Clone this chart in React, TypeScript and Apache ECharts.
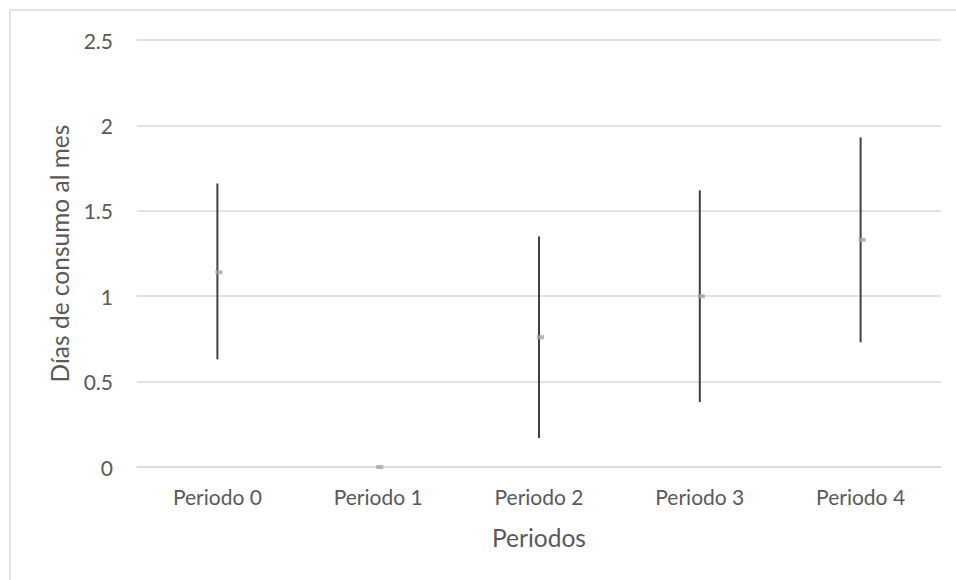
import React, { useEffect, useRef } from "react";
import * as echarts from "echarts";

const categories = ["Periodo 0", "Periodo 1", "Periodo 2", "Periodo 3", "Periodo 4"];
const means = [1.14, 0, 0.76, 1.0, 1.33];
const lower = [0.63, 0, 0.17, 0.38, 0.73];
const upper = [1.66, 0, 1.35, 1.62, 1.93];
const yTitle = "Días de consumo al mes";
const xTitle = "Periodos";

const FONT = "Lato";
const TEXT = "#595959";
const GRID = "#d9d9d9";

export default function App() {
  const ref = useRef<HTMLDivElement>(null);
  useEffect(() => {
    if (!ref.current) return;
    const chart = echarts.init(ref.current, undefined, { renderer: "svg" });
    const errData = categories.map((_, i) => [i, lower[i], upper[i]]);
    chart.setOption({
      animation: false,
      backgroundColor: "#ffffff",
      textStyle: { fontFamily: FONT },
      graphic: [
        {
          type: "rect",
          shape: { x: 10, y: 10, width: 960, height: 600 },
          style: { fill: "none", stroke: GRID, lineWidth: 1.5 },
          silent: true,
        },
      ],
      grid: { left: 137, right: 15, top: 40, bottom: 113 },
      xAxis: {
        type: "category",
        data: categories,
        name: xTitle,
        nameLocation: "middle",
        nameGap: 58,
        nameTextStyle: { color: TEXT, fontSize: 24.5, fontFamily: FONT },
        axisLine: { show: true, lineStyle: { color: GRID, width: 1.5 } },
        axisTick: { show: false },
        axisLabel: { color: TEXT, fontSize: 21, fontFamily: FONT, margin: 19 },
      },
      yAxis: {
        type: "value",
        min: 0,
        max: 2.5,
        interval: 0.5,
        name: yTitle,
        nameLocation: "middle",
        nameRotate: 90,
        nameGap: 65,
        nameTextStyle: { color: TEXT, fontSize: 24.5, fontFamily: FONT },
        axisLine: { show: false },
        axisTick: { show: false },
        axisLabel: { color: TEXT, fontSize: 21, fontFamily: FONT, margin: 24 },
        splitLine: { show: true, lineStyle: { color: GRID, width: 1.5 } },
      },
      series: [
        {
          type: "custom",
          data: errData,
          z: 3,
          renderItem: (params: any, api: any) => {
            const lo = api.value(1);
            const hi = api.value(2);
            if (lo === hi) return null;
            const p1 = api.coord([api.value(0), lo]);
            const p2 = api.coord([api.value(0), hi]);
            return {
              type: "line",
              shape: { x1: p1[0], y1: p1[1], x2: p2[0], y2: p2[1] },
              style: { stroke: "#404040", lineWidth: 2 },
            };
          },
        },
        {
          type: "scatter",
          data: means,
          symbol: "rect",
          symbolSize: [7, 4],
          symbolOffset: [1.5, 0],
          itemStyle: { color: "#a5a5a5" },
          z: 5,
        },
      ],
    });
    return () => chart.dispose();
  }, []);
  return (
    <div
      ref={ref}
      style={{ position: "fixed", left: 0, top: 0, width: 956, height: 580 }}
    />
  );
}
